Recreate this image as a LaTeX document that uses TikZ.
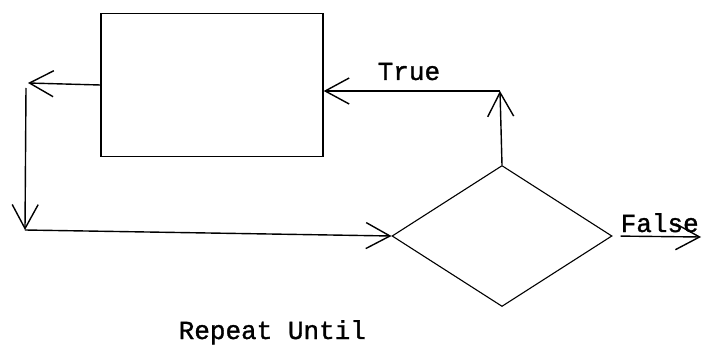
\documentclass[tikz,border=0pt]{standalone}
\usepackage{fontspec}
\setmonofont[FakeBold=1.2]{Liberation Mono}
\usetikzlibrary{arrows.meta,shapes.geometric}
\begin{document}
\begin{tikzpicture}[x=1pt,y=-1pt,
  line width=1.4pt,
  flow/.style={-{Straight Barb[length=24pt,width=26pt,line width=1.4pt]}},
  procbox/.style={draw,rectangle,minimum width=222pt,minimum height=143pt,inner sep=0pt},
  decision/.style={draw,diamond,aspect=1.56,minimum width=220pt,minimum height=141pt,inner sep=0pt,line width=1.1pt},
  lbl/.style={font=\ttfamily\fontsize{26}{30}\selectfont,inner sep=0pt,anchor=base west}]
\useasboundingbox (0,0) rectangle (703,350);

% body of the loop and the test
\node[procbox] (body) at (212,85) {};
\node[decision] (test) at (502,236) {};

% corners of the loop-back path
\coordinate (lt) at (28,83);
\coordinate (ltb) at (26,88);
\coordinate (lb) at (25,230);
\coordinate (up) at (500,91);
\coordinate (out) at (701,237);

% exit of the body, back down to the test
\draw[flow] (body.west) -- (lt);
\draw[flow] (ltb) -- (lb);
\draw[flow] (lb) -- (test.west);

% true branch returns to the body
\draw[flow] (test.north) -- (up);
\draw[flow] (up) -- (up -| body.east);

% false branch leaves the loop
\draw[flow,shorten <=8pt] (test.east) -- (out);

% labels
\node[lbl] (ltrue) at (377,80) {True};
\node[lbl] (lfalse) at (620,232) {False};
\node[lbl] (title) at (178,339) {Repeat Until};
\end{tikzpicture}
\end{document}
